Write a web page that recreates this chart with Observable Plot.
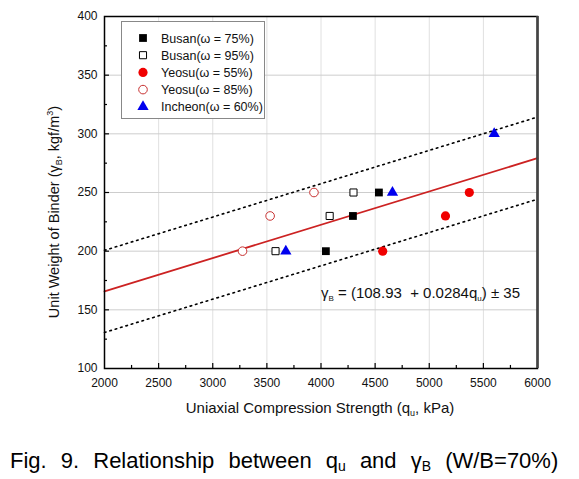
<!DOCTYPE html>
<html><head><meta charset="utf-8">
<script src="https://cdn.jsdelivr.net/npm/d3@7"></script>
<script src="https://cdn.jsdelivr.net/npm/@observablehq/plot@0.6"></script>
<style>
body{margin:0;background:#fff;font-family:"Liberation Sans",Arial,sans-serif;}
#wrap{position:relative;width:579px;height:479px;background:#fff;}
#cap{position:absolute;left:10px;top:448px;font-size:22px;line-height:26px;color:#000;white-space:nowrap;letter-spacing:0px;word-spacing:8px;}
#cap sub{font-size:14px;vertical-align:-3px;line-height:0;}
</style></head><body><div id="wrap"></div><script>
// ---- data ----
const xTicks = [2000, 2500, 3000, 3500, 4000, 4500, 5000, 5500, 6000];
const yTicks = [100, 150, 200, 250, 300, 350, 400];
const xMinor = [2250, 2750, 3250, 3750, 4250, 4750, 5250, 5750];
const yMinor = [125, 175, 225, 275, 325, 375];

const seriesNames = ["Busan(\u03c9 = 75%)", "Busan(\u03c9 = 95%)", "Yeosu(\u03c9 = 55%)", "Yeosu(\u03c9 = 85%)", "Incheon(\u03c9 = 60%)"];
const busan75X = [4045, 4295, 4535];
const busan75Y = [200, 230, 250];
const busan95X = [3580, 4080, 4300];
const busan95Y = [200, 230, 250];
const yeosu55X = [4570, 5150, 5370];
const yeosu55Y = [200, 230, 250];
const yeosu85X = [3275, 3530, 3935];
const yeosu85Y = [200, 230, 250];
const incheonX = [3675, 4660, 5600];
const incheonY = [200, 250, 300];

// regression line gamma_B = 108.93 + 0.0284 qu, band +/- 35 (end points)
const fitX = [2000, 6000];
const fitY = [165.7, 279.3];
const upperY = [200.7, 314.3];
const lowerY = [130.7, 244.3];

// ---- build ----
const pts = (xs, ys) => xs.map((x, i) => ({x, y: ys[i]}));
const line = (xs, ys) => xs.map((x, i) => ({x, y: ys[i]}));

const styles = [
  {symbol: "square", fill: "#000", stroke: "none", r: 4.4, strokeWidth: 1},
  {symbol: "square", fill: "#fff", stroke: "#000", r: 4.0, strokeWidth: 1},
  {symbol: "circle", fill: "#f00000", stroke: "none", r: 4.6, strokeWidth: 1},
  {symbol: "circle", fill: "#fff", stroke: "#c83232", r: 4.3, strokeWidth: 1},
  {symbol: "triangle", fill: "#0000ee", stroke: "none", r: 4.2, strokeWidth: 1}
];
const seriesData = [pts(busan75X, busan75Y), pts(busan95X, busan95Y), pts(yeosu55X, yeosu55Y), pts(yeosu85X, yeosu85Y), pts(incheonX, incheonY)];

const font = '"Liberation Sans", Arial, sans-serif';
const plot = Plot.plot({
  width: 579, height: 430,
  marginLeft: 104, marginRight: 42, marginTop: 16, marginBottom: 62,
  style: {fontFamily: font, fontSize: "12px", background: "white", color: "#111", overflow: "visible"},
  x: {domain: [2000, 6000], label: null},
  y: {domain: [100, 400], label: null},
  marks: [
    Plot.ruleX(xTicks.slice(1, -1), {stroke: "#e0e0e0", strokeWidth: 1}),
    Plot.ruleY(yTicks.slice(1, -1), {stroke: "#cdcdcd", strokeWidth: 1}),
    Plot.line(line(fitX, upperY), {x: "x", y: "y", stroke: "#000", strokeWidth: 1.6, strokeDasharray: "1.6,4"}),
    Plot.line(line(fitX, lowerY), {x: "x", y: "y", stroke: "#000", strokeWidth: 1.6, strokeDasharray: "1.6,4"}),
    Plot.line(line(fitX, fitY), {x: "x", y: "y", stroke: "#cc2222", strokeWidth: 1.8}),
    ...seriesData.map((d, i) => Plot.dot(d, {x: "x", y: "y", ...styles[i]})),
    // inward ticks
    Plot.ruleX(xTicks.slice(1, -1), {y1: 100, y2: 104.3, stroke: "#000", strokeWidth: 1.2}),
    Plot.ruleX(xMinor, {y1: 100, y2: 102.6, stroke: "#000", strokeWidth: 1.2}),
    Plot.ruleY(yTicks.slice(1, -1), {x1: 2000, x2: 2046, stroke: "#000", strokeWidth: 1.2}),
    Plot.ruleY(yMinor, {x1: 2000, x2: 2028, stroke: "#000", strokeWidth: 1.2}),
    Plot.axisX({ticks: xTicks, tickSize: 0, tickPadding: 10, tickFormat: d3.format("d"), label: null}),
    Plot.axisY({ticks: yTicks, tickSize: 0, tickPadding: 7, tickFormat: d3.format("d"), label: null}),
    Plot.frame({stroke: "#000", strokeWidth: 1.5}),
    Plot.ruleX([6000], {stroke: "#444", strokeWidth: 2.6})
  ]
});

const wrap = document.getElementById("wrap");
wrap.appendChild(plot);
const svg = d3.select(plot);
plot.style.position = "absolute"; plot.style.left = "0"; plot.style.top = "0";

// y axis title
const yt = svg.append("text").attr("transform", "translate(59,212) rotate(-90)")
  .attr("text-anchor", "middle").attr("font-size", 14.5).attr("fill", "#111").attr("font-family", font);
yt.append("tspan").text("Unit Weight of Binder (\u03b3");
yt.append("tspan").attr("font-size", 9).attr("dy", 3).text("B");
yt.append("tspan").attr("dy", -3).text(", kgf/m");
yt.append("tspan").attr("font-size", 9).attr("dy", -6).text("3");
yt.append("tspan").attr("dy", 6).text(")");

// x axis title
const xt = svg.append("text").attr("x", 320).attr("y", 413)
  .attr("text-anchor", "middle").attr("font-size", 15).attr("fill", "#111").attr("font-family", font);
xt.append("tspan").text("Uniaxial Compression Strength (q");
xt.append("tspan").attr("font-size", 9).attr("dy", 3).text("u");
xt.append("tspan").attr("dy", -3).text(", kPa)");

// equation
const eq = svg.append("text").attr("x", 321).attr("y", 298).attr("text-anchor", "start")
  .attr("font-size", 15).attr("fill", "#111").attr("font-family", font).style("white-space", "pre");
eq.append("tspan").text("\u03b3");
eq.append("tspan").attr("font-size", 8).attr("dy", 3).text("B");
eq.append("tspan").attr("dy", -3).text(" = (108.93  + 0.0284q");
eq.append("tspan").attr("font-size", 8).attr("dy", 3).text("u");
eq.append("tspan").attr("dy", -3).text(") \u00b1 35");

// legend
const lg = svg.append("g").attr("text-anchor", "start");
lg.append("rect").attr("x", 121.5).attr("y", 21.5).attr("width", 143).attr("height", 97)
  .attr("fill", "#fff").attr("stroke", "#888").attr("stroke-width", 1);
const symMap = {square: d3.symbolSquare, circle: d3.symbolCircle, triangle: d3.symbolTriangle};
seriesNames.forEach((name, i) => {
  const cy = 38 + i * 17.2;
  const s = styles[i];
  lg.append("path").attr("transform", `translate(143,${cy})`)
    .attr("d", d3.symbol(symMap[s.symbol], Math.PI * s.r * s.r)())
    .attr("fill", s.fill).attr("stroke", s.stroke).attr("stroke-width", s.strokeWidth);
  lg.append("text").attr("x", 161).attr("y", cy).attr("dy", "0.36em").attr("text-anchor", "start")
    .attr("font-size", 12.5).attr("fill", "#111").attr("font-family", font).text(name);
});

// caption
const cap = document.createElement("div");
cap.id = "cap";
cap.innerHTML = "Fig. 9. Relationship between q<sub>u</sub> and \u03b3<sub>B</sub> (W/B=70%)";
wrap.appendChild(cap);
</script></body></html>
